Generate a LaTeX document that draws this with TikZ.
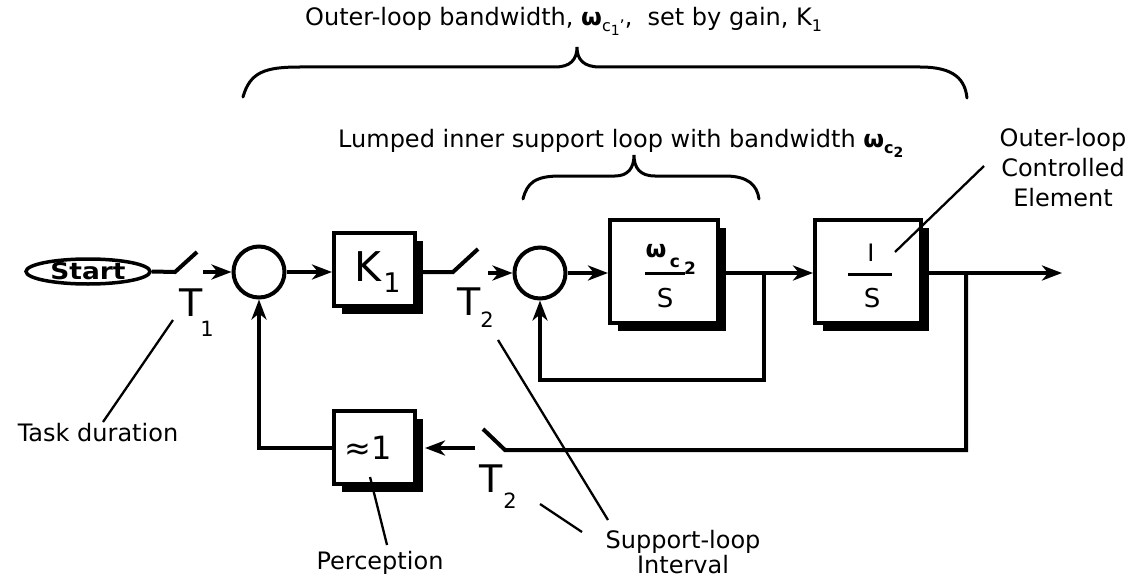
\documentclass[tikz,border=0pt]{standalone}
\usepackage{fontspec}
\setmainfont{DejaVu Sans}
\usetikzlibrary{arrows.meta,shapes.geometric,shadows}
\newcommand\fs[1]{\fontsize{#1}{#1}\selectfont}
\newcommand\lowsub[2][16]{\raisebox{-0.45ex}{\fs{#1}#2}}
\tikzset{
  wire/.style={line width=4pt},
  arr/.style={line width=4pt,-{Stealth[length=20pt,width=15pt,inset=6pt]}},
  blk/.style={draw,line width=4pt,fill=white,inner sep=0pt,
    drop shadow={shadow xshift=8pt,shadow yshift=-8pt,fill=black,opacity=1}},
  sumc/.style={circle,draw,line width=4pt,minimum size=51pt,inner sep=0pt},
  lbl/.style={inner sep=0pt,font=\fs{24}},
  ptr/.style={line width=2.3pt},
  brc/.style={line width=3pt,line cap=round}
}
\begin{document}
\begin{tikzpicture}[x=1pt,y=-1pt]
\useasboundingbox (0,0) rectangle (1135,583);
% blocks
\node[ellipse,draw,line width=3.5pt,minimum width=124pt,minimum height=25pt,inner sep=0pt] (start) at (88,271.5) {\scalebox{1.15}[1]{\fs{23}\bfseries Start}};
\node[sumc] (c1) at (259,272) {};
\node[blk,minimum width=81pt,minimum height=73pt] (k1) at (374.5,269.5) {};
\node[sumc] (c2) at (540,273) {};
\node[blk,minimum width=108pt,minimum height=103pt] (g) at (664,271.5) {};
\node[blk,minimum width=106pt,minimum height=103pt] (p) at (868,271.5) {};
\node[blk,minimum width=81pt,minimum height=73pt] (fb) at (374.5,447.5) {};
% block contents
\node[inner sep=0pt] (kK) at (368,267) {\fs{41}K};
\node[inner sep=0pt] (kS) at (392,283) {\fs{27}1};
\node[inner sep=0pt] (fbT) at (368,448) {\fs{32}≈1};
\node[inner sep=0pt] (gw) at (656,251) {\fs{24}\bfseries ω};
\node[inner sep=0pt] (gc) at (675,263) {\fs{17}\bfseries c};
\node[inner sep=0pt] (g2) at (690,268) {\fs{17}\bfseries 2};
\coordinate (gbarL) at (645,273); \coordinate (gbarR) at (685,273);
\draw[line width=3pt] (gbarL) -- (gbarR);
\node[inner sep=0pt] (gS) at (665,298) {\fs{26}S};
\node[inner sep=0pt] (pI) at (871,253) {\fs{24}I};
\coordinate (pbarL) at (848,274); \coordinate (pbarR) at (892,274);
\draw[line width=3pt] (pbarL) -- (pbarR);
\node[inner sep=0pt] (pS) at (872,298) {\fs{26}S};
% switch labels
\node[inner sep=0pt] (t1) at (191,303) {\fs{38}T};
\node[inner sep=0pt] (t1n) at (207,329) {\fs{21}1};
\node[inner sep=0pt] (t2) at (469,302) {\fs{38}T};
\node[inner sep=0pt] (t2n) at (487,320) {\fs{21}2};
\node[inner sep=0pt] (t3) at (491,479) {\fs{38}T};
\node[inner sep=0pt] (t3n) at (510,501) {\fs{21}2};
% forward path
\coordinate (s1a) at (175,272); \coordinate (s1b) at (197,252); \coordinate (s1c) at (203,272);
\draw[wire] (start.east) -- (s1a) -- (s1b);
\draw[arr] (s1c) -- (c1.west);
\draw[arr] (c1.east) -- (c1.east -| k1.west);
\coordinate (s2a) at (453,272); \coordinate (s2b) at (478,249); \coordinate (s2c) at (488,273);
\draw[wire] (k1.east |- s2a) -- (s2a) -- (s2b);
\draw[arr] (s2c) -- (c2.west);
\draw[arr] (c2.east) -- (c2.east -| g.west);
\draw[arr] (g.east |- c2) -- (p.west |- c2);
\coordinate (out) at (1062,273);
\draw[arr] (p.east |- c2) -- (out);
% inner loop
\coordinate (j1) at (764,273); \coordinate (j1b) at (764,380);
\draw[arr] (j1) -- (j1b) -| (c2.south);
% outer loop
\coordinate (j2) at (966,273); \coordinate (j2b) at (966,450);
\coordinate (s3a) at (505,450); \coordinate (s3b) at (483,429); \coordinate (s3c) at (475,448);
\coordinate (fbr) at (425,448);
\draw[wire] (j2) -- (j2b) -- (s3a) -- (s3b);
\draw[arr] (s3c) -- (fbr);
\draw[arr] (fb.west) -- (c1.south |- fb.west) -- (c1.south);
% texts
\node[lbl,anchor=west] (title) at (305,21) {Outer-loop bandwidth, \textbf{ω}\lowsub{c\lowsub[14]{1}’},\ \ set by gain, K\lowsub{1}};
\node[lbl,anchor=west] (inner) at (338,143) {Lumped inner support loop with bandwidth \textbf{ω}\lowsub{\bfseries c\lowsub[14]{2}}};
\node[lbl,align=center,font=\fontsize{24}{30}\selectfont] (ole) at (1063,168) {Outer-loop\\Controlled\\Element};
\node[lbl] (task) at (98,433) {Task duration};
\node[lbl] (perc) at (380,563) {Perception};
\node[lbl,align=center,font=\fontsize{24}{25}\selectfont] (sli) at (683,552) {Support-loop\\Interval};
% pointers
\coordinate (tdA) at (173,320); \coordinate (tdB) at (103,422);
\draw[ptr] (tdA) -- (tdB);
\coordinate (peA) at (370,477); \coordinate (peB) at (387,545);
\draw[ptr] (peA) -- (peB);
\coordinate (slA) at (498,340); \coordinate (slB) at (608,520);
\draw[ptr] (slA) -- (slB);
\coordinate (slC) at (540,504); \coordinate (slD) at (582,532);
\draw[ptr] (slC) -- (slD);
\coordinate (olA) at (895,252); \coordinate (olB) at (984,166);
\draw[ptr] (olA) -- (olB);
% braces
\coordinate (obL) at (243,97); \coordinate (obC) at (577,47); \coordinate (obR) at (967,98);
\draw[brc] (obL) .. controls (250,72) and (265,67) .. (300,67) -- (555,67)
  .. controls (570,67) and (577,60) .. (obC)
  .. controls (577,60) and (584,67) .. (600,67) -- (920,67)
  .. controls (955,67) and (965,80) .. (obR);
\coordinate (ibL) at (523,199); \coordinate (ibC) at (634,155); \coordinate (ibR) at (759,199);
\draw[brc] (ibL) .. controls (527,183) and (535,176) .. (560,176) -- (615,176)
  .. controls (628,176) and (634,168) .. (ibC)
  .. controls (634,168) and (640,176) .. (655,176) -- (725,176)
  .. controls (748,176) and (757,185) .. (ibR);
\end{tikzpicture}
\end{document}
